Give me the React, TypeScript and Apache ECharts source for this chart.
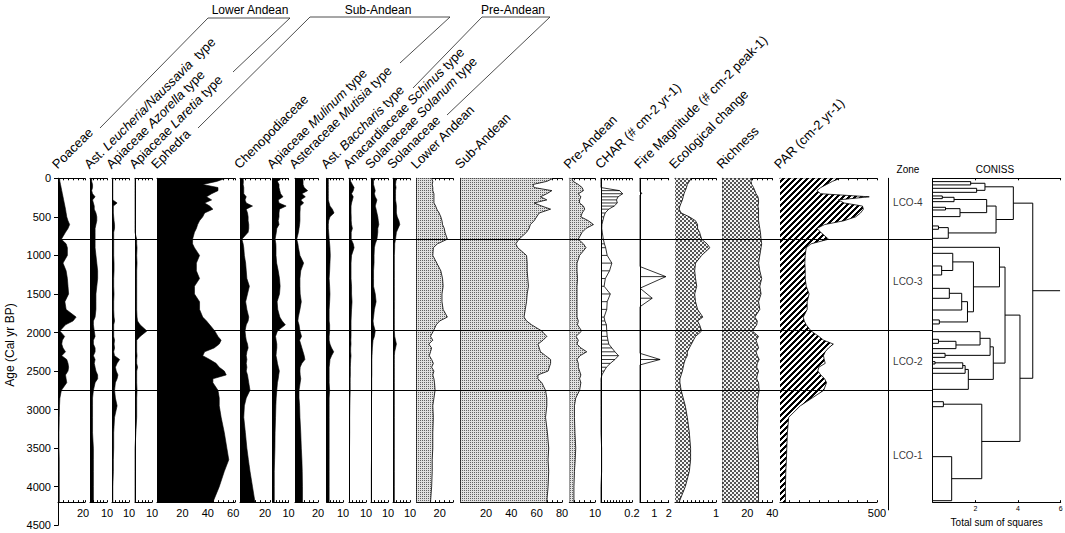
import React, { useEffect, useRef } from "react";
import * as echarts from "echarts";

// ---------------- DATA ----------------
const AGES = [0, 40, 80, 120, 160, 200, 240, 280, 320, 360,
  400, 450, 500, 550, 600, 650, 700, 790, 850, 900,
  1000, 1100, 1200, 1300, 1400, 1500, 1600, 1700, 1800,
  1850, 1900, 1980, 2050, 2100, 2150, 2200, 2250, 2300, 2350,
  2400, 2450, 2500, 2550, 2600, 2650, 2750, 2850, 2950, 3100,
  3300, 3500, 3650, 3800, 4000, 4200];

const POACEAE = [1.3, 1.5, 2, 2.5, 3, 3.5, 4, 4.5, 5, 5.5,
  6, 6.5, 7, 8, 9.3, 8, 6, 2.7, 6.5, 7.5,
  7.5, 4, 6.5, 7.5, 8, 8.5, 5.5, 6.5, 14.5,
  12, 6, 1.5, 5.3, 3.5, 3, 4, 6, 3, 7,
  8, 8.5, 8, 6, 6.5, 7, 2.7, 1.5, 1.2, 1,
  0.8, 0.8, 1, 1, 1, 1];
const AST_LEUCHERIA = [1, 1, 1.5, 1.5, 1, 1.5, 3, 1.5, 2, 2.5,
  2.5, 3.5, 4, 4, 3.5, 3, 3, 3, 3, 3,
  3.5, 4, 4.5, 4.5, 4, 3.5, 3.5, 3.5, 3,
  2, 2, 2.5, 3, 2, 2, 3, 3, 2, 3,
  2.5, 3, 3.5, 4.5, 4.5, 3, 2, 1.5, 1.5, 1.5,
  1.5, 2, 2, 2, 2, 2];
const AZORELLA = [0.5, 0.5, 0.5, 0.5, 0.5, 0.5, 0.5, 0.5, 3, 0.8,
  0.8, 0.8, 1, 1.2, 1.5, 1.5, 1, 1, 1, 1,
  1, 1.2, 1.2, 1, 1, 1.2, 1, 1, 1.2,
  1.5, 1, 1, 1, 1.5, 1.2, 1.5, 1, 1.5, 4.5,
  3, 2, 2.5, 3.5, 3, 2, 1.5, 2, 3, 1.5,
  1, 1, 0.8, 0.8, 0.5, 0.5];
const LARETIA = [0, 0, 0, 0, 0, 0, 0, 0, 0, 0,
  0, 0, 0, 0, 0, 0, 0, 1, 1, 1.2,
  1, 1.2, 1, 1, 1, 1, 1, 1, 1.2,
  1.5, 3, 7, 3, 1, 1, 1, 1, 1.2, 1,
  1, 1.5, 1, 1, 1, 1, 1.2, 1, 1, 1,
  0.5, 0, 0, 0, 0, 0];
const EPHEDRA = [54, 47, 36, 48, 48, 43, 39, 43, 37.5, 41.5,
  44, 37.5, 36, 33.5, 32, 31, 29.5, 28, 28, 29.5,
  33.5, 31, 31, 33.5, 29.5, 29.5, 33.5, 33.5, 36,
  39, 41.5, 45.5, 48, 50.5, 49, 45, 37.5, 36, 41.5,
  46.5, 49, 53, 54.5, 44, 44, 48, 49, 49, 50.5,
  53, 55, 56.5, 53, 49, 44];
const CHENOPODIACEAE = [2.5, 2.7, 2.5, 3, 3, 3, 5, 4, 5, 10,
  5, 6, 6.5, 6.5, 7, 7, 6.5, 1.5, 2.5, 3,
  3.5, 4.5, 5, 5.5, 7.5, 6, 4.5, 5.5, 7,
  6.5, 5, 4, 4.5, 5, 6, 6.5, 5.5, 5, 5.5,
  5, 5.5, 5, 6, 6.5, 7, 8, 5, 3.5, 3,
  4.3, 5.5, 6.7, 8, 10, 12];
const MULINUM = [5.5, 3, 4, 4, 4.5, 5, 6.5, 3.5, 4, 8.5,
  4.3, 4, 4, 3.5, 4, 2.6, 2.3, 1.5, 2, 2.1,
  2.1, 2.5, 3.5, 4.3, 4.7, 4.3, 2.8, 3.2, 4.5,
  6, 8, 3, 1.8, 2.2, 2.6, 2.6, 2.3, 2.1, 2.6,
  3, 3.6, 4.2, 3.8, 3.5, 3, 2.6, 2.2, 2, 1.8,
  1.5, 1.4, 1.2, 1, 1, 1];
const MUTISIA = [7, 7, 7, 8, 11, 6, 9, 5, 7.5, 4.5,
  4.5, 4.3, 4.3, 4.3, 4, 3.5, 3, 1.5, 2.5, 3,
  4.3, 7.5, 5, 4.3, 4.3, 4.5, 5.5, 4.3, 2.9,
  2.5, 3.5, 4.3, 5.7, 4, 5, 6, 7, 8, 8.6,
  6, 4.5, 4.3, 4.5, 5, 4.5, 3.5, 3.5, 4, 4.3,
  5, 5.5, 6, 6.3, 6.5, 6.5];
const BACCHARIS = [1, 1, 1, 1, 1, 1, 1, 1, 1.5, 2,
  3.5, 4.5, 2, 1.2, 1, 1, 1.2, 1.5, 1.8, 2,
  2.2, 2, 1.8, 1.5, 1.8, 2, 1.8, 1.5, 1.5,
  1.5, 1.8, 1.8, 1.5, 1.5, 2, 3, 4.3, 3, 2,
  1.8, 1.5, 1.5, 1.5, 1.5, 1.5, 1.8, 1.5, 1.5, 1.5,
  1.5, 1.5, 1.5, 1.5, 1.5, 1.5];
const SCHINUS = [0.8, 1, 2, 3, 2.5, 1.5, 2.5, 2, 1.5, 1.2,
  1.2, 1.2, 1.3, 1.3, 1.5, 2, 1.3, 1.3, 2.5, 3,
  1.5, 1.2, 1.2, 1.2, 1.5, 1.5, 1.8, 1.5, 1.3,
  1.2, 1.2, 1.2, 1.2, 1.1, 1.2, 1, 1, 1.2, 1,
  0.9, 0.8, 0.8, 0.8, 0.7, 0.7, 0.7, 0.6, 0.5, 0.4,
  0.4, 0.3, 0.3, 0.3, 0.3, 0.3];
const SOLANUM = [1.5, 1.5, 1.5, 2, 2.5, 2, 2.5, 3.5, 3, 2.5,
  3, 3.5, 4, 4.3, 4.6, 4, 4, 3.5, 2.5, 2,
  1.8, 1.8, 1.5, 1.5, 1.5, 2.5, 3, 2, 1.5,
  1.2, 1.5, 2.5, 2, 1.2, 1, 0.8, 0.7, 0.6, 0.5,
  0.5, 0.5, 0.5, 0.5, 0.4, 0.4, 0.4, 0.3, 0.3, 0.3,
  0.3, 0.3, 0.3, 0.2, 0.2, 0.2];
const SOLANACEAE = [1.7, 1.7, 1.5, 1.8, 1.5, 1.5, 1.5, 1.5, 1.8, 2,
  2, 2, 2.5, 3.5, 4, 3, 2, 1.5, 1, 1,
  0.8, 0.8, 0.8, 0.8, 0.8, 0.8, 0.8, 0.8, 0.8,
  0.8, 0.8, 0.8, 1, 1.5, 2, 1.5, 1, 0.8, 0.8,
  0.8, 0.8, 0.8, 0.8, 0.8, 0.8, 0.8, 0.8, 0.8, 0.8,
  0.8, 0.8, 0.8, 0.8, 0.8, 0.8];
const LOWER_ANDEAN = [13, 14, 13.5, 14, 14, 15, 15, 15, 15, 16.5,
  17.5, 19.5, 21, 22, 22.5, 24, 24.6, 26.7, 18, 14.5,
  14, 17.5, 21, 22.5, 23, 22, 22, 23, 26.7,
  20, 17, 14.5, 12, 14, 10.5, 13, 12, 11, 13,
  14.5, 13, 15, 14, 15, 15.5, 16, 15, 14, 14.5,
  14, 14, 13.5, 13.5, 13, 12];
const SUB_ANDEAN = [73, 68, 57, 58, 72, 68, 63, 68, 58, 64,
  71, 62, 60, 58, 55, 54, 52, 46, 43.5, 45,
  52, 52.5, 52.5, 53, 53.5, 52.5, 52, 51, 50,
  52, 56, 64, 68, 65, 61, 62, 63, 67, 71,
  71, 70, 69, 61, 61, 64, 67, 68, 68, 67,
  68.5, 69.5, 69, 69.5, 69, 68];
const PRE_ANDEAN = [1, 1.5, 3.5, 5, 5.5, 3.5, 4.5, 4, 4, 5.5,
  6, 5, 4.5, 7.4, 9.4, 6.5, 5, 3.5, 5.5, 6.5,
  4, 3, 3, 3.2, 3, 3, 3, 3, 3,
  3.5, 3.2, 4.8, 2.6, 3.5, 3, 4.5, 6.8, 4.2, 3,
  3.5, 3.5, 4, 4.5, 4, 4.5, 4, 2.5, 2, 2,
  2.2, 2.5, 2.3, 2, 1.8, 1.8];
const CHAR = [0, 0, 0, 0, 0.12, 0.14, 0.11, 0.1, 0.105, 0.085,
  0.05, 0.027, 0.018, 0.012, 0.006, 0.005, 0.008, 0.015, 0.022, 0.03,
  0.04, 0.07, 0.055, 0.028, 0.02, 0.06, 0.04, 0.037, 0.02,
  0.025, 0.035, 0.037, 0.04, 0.045, 0.05, 0.07, 0.09, 0.113, 0.09,
  0.06, 0.035, 0.02, 0.006, 0, 0, 0, 0, 0, 0,
  0, 0.004, 0.004, 0.004, 0, 0];
const ECOLOGICAL_CHANGE = [0.4, 0.35, 0.3, 0.28, 0.25, 0.22, 0.2, 0.18, 0.15, 0.12,
  0.1, 0.15, 0.35, 0.5, 0.55, 0.55, 0.6, 0.65, 0.78, 0.85,
  0.65, 0.5, 0.48, 0.5, 0.53, 0.48, 0.5, 0.55, 0.68,
  0.55, 0.6, 0.65, 0.5, 0.45, 0.4, 0.35, 0.3, 0.3, 0.25,
  0.22, 0.2, 0.18, 0.15, 0.12, 0.12, 0.15, 0.2, 0.25, 0.3,
  0.35, 0.38, 0.38, 0.35, 0.25, 0.1];
const RICHNESS = [23.5, 23, 23.5, 25, 26, 27, 28.5, 29, 29, 28.5,
  29, 29, 29, 29, 29.5, 30, 30.5, 31, 31.5, 31,
  30, 29, 30, 31.5, 30, 31, 29, 30, 26,
  28, 27.5, 24, 29, 27, 28, 29, 27, 28, 29.5,
  28, 27.5, 29, 28, 27.5, 29, 29.5, 28.5, 28, 28.5,
  28, 28.5, 29, 29, 29, 29];
const PAR = [310, 270, 240, 210, 190, 210, 460, 300, 330, 425,
  430, 415, 390, 330, 230, 190, 210, 250, 160, 135,
  130, 128, 130, 130, 135, 150, 140, 140, 120,
  125, 135, 160, 200, 225, 275, 250, 233, 224, 228,
  233, 200, 195, 210, 230, 240, 225, 165, 105, 45,
  38, 35, 33, 30, 28, 28];

const FIRE_AGES = [0, 170, 195, 220, 1145, 1275, 1425, 1555, 1665, 2270, 2350, 2420, 4200];
const FIRE_MAGNITUDE = [0, 0, 0.12, 0, 0, 1.8, 0, 0.85, 0, 0, 1.4, 0, 0];

const ZONE_BOUNDARIES = [785, 1975, 2745];
const ZONE_NAMES = ["LCO-4", "LCO-3", "LCO-2", "LCO-1"];
const ZONE_LABEL_AGES = [320, 1340, 2380, 3590];

const CONISS_LEAVES = [43, 86, 130, 182, 229, 264, 303, 376, 411, 497,
  618, 661, 778, 895, 973, 1137, 1254, 1427, 1556, 1708,
  1837, 1889, 1989, 2088, 2140, 2209, 2270, 2322, 2378, 2408,
  2464, 2529, 2737, 2897, 2962, 3610, 4181];
// [child A, child B, total sum of squares]; children >= leaves.length refer to earlier merges
const CONISS_MERGES = [
  [0, 1, 1.78], [2, 3, 2.06], [37, 38, 2.45], [4, 5, 0.45], [40, 6, 1.0],
  [7, 8, 0.6], [42, 9, 1.28], [41, 43, 2.53], [10, 11, 0.27], [45, 12, 0.73],
  [44, 46, 2.97], [39, 47, 3.78], [15, 16, 0.42], [14, 49, 0.94], [17, 18, 0.78],
  [51, 19, 1.36], [20, 21, 0.31], [52, 53, 1.63], [50, 54, 1.91], [13, 55, 3.13],
  [23, 24, 0.27], [57, 25, 1.09], [22, 58, 2.22], [26, 27, 0.58], [59, 60, 2.69],
  [28, 29, 0.11], [62, 30, 1.41], [63, 31, 1.52], [64, 32, 1.67], [61, 65, 2.84],
  [56, 66, 3.39], [33, 34, 0.5], [35, 36, 0.89], [68, 69, 2.3], [67, 70, 4.09],
  [48, 71, 4.69]];
const CONISS_ROOT_END = 5.97;

// ---------------- LAYOUT / STYLE ----------------
const FONT = '"Liberation Sans", Arial, sans-serif';
const TOP = 178.3;
const PX_PER_YR = 0.07711;
const CORE_BOTTOM = 4200;
const HEADER_FONT = 13;

type Panel = {
  name: string; data: number[]; ages?: number[]; left: number; right: number;
  max: number; interval: number; labels: number[]; fill: string; hlines?: boolean;
};

const PANELS: Panel[] = [
  { name: "Poaceae", data: POACEAE, left: 58, right: 85, max: 21.6, interval: 4, labels: [20], fill: "black" },
  { name: "Ast. {i|Leucheria/Naussavia}  type", data: AST_LEUCHERIA, left: 90, right: 107, max: 10, interval: 2, labels: [10], fill: "black" },
  { name: "Apiaceae {i|Azorella} type", data: AZORELLA, left: 112, right: 129, max: 10, interval: 2, labels: [10], fill: "black" },
  { name: "Apiaceae {i|Laretia} type", data: LARETIA, left: 135, right: 152, max: 10, interval: 2, labels: [10], fill: "black" },
  { name: "Ephedra", data: EPHEDRA, left: 157, right: 235, max: 61.4, interval: 4, labels: [20, 40, 60], fill: "black" },
  { name: "Chenopodiaceae", data: CHENOPODIACEAE, left: 240, right: 270, max: 24, interval: 4, labels: [20], fill: "black" },
  { name: "Apiaceae {i|Mulinum} type", data: MULINUM, left: 272.7, right: 288.5, max: 10, interval: 2, labels: [10], fill: "black" },
  { name: "Asteraceae {i|Mutisia} type", data: MUTISIA, left: 295, right: 318, max: 20, interval: 4, labels: [20], fill: "black" },
  { name: "Ast. {i|Baccharis} type", data: BACCHARIS, left: 326.7, right: 343, max: 10, interval: 2, labels: [10], fill: "black" },
  { name: "Anacardiaceae {i|Schinus} type", data: SCHINUS, left: 349, right: 366, max: 10, interval: 2, labels: [10], fill: "black" },
  { name: "Solanaceae {i|Solanum} type", data: SOLANUM, left: 371, right: 388, max: 10, interval: 2, labels: [10], fill: "black" },
  { name: "Solanaceae", data: SOLANACEAE, left: 393, right: 410, max: 10, interval: 2, labels: [10], fill: "black" },
  { name: "Lower Andean", data: LOWER_ANDEAN, left: 416.7, right: 453, max: 31.6, interval: 4, labels: [20], fill: "stipple" },
  { name: "Sub-Andean", data: SUB_ANDEAN, left: 460.7, right: 562, max: 80, interval: 4, labels: [20, 40, 60, 80], fill: "stipple" },
  { name: "Pre-Andean", data: PRE_ANDEAN, left: 569.3, right: 595, max: 10, interval: 2, labels: [10], fill: "stipple" },
  { name: "CHAR (# cm-2 yr-1)", data: CHAR, left: 601, right: 632, max: 0.2, interval: 0.02, labels: [0.2], fill: "none", hlines: true },
  { name: "Fire Magnitude (# cm-2 peak-1)", data: FIRE_MAGNITUDE, ages: FIRE_AGES, left: 640, right: 668.7, max: 2, interval: 0.5, labels: [1, 2], fill: "none", hlines: true },
  { name: "Ecological change", data: ECOLOGICAL_CHANGE, left: 675, right: 716, max: 1, interval: 0.1, labels: [1], fill: "checker" },
  { name: "Richness", data: RICHNESS, left: 722.3, right: 772.3, max: 40, interval: 4, labels: [20, 40], fill: "checker" },
  { name: "PAR (cm-2 yr-1)", data: PAR, left: 780, right: 877, max: 500, interval: 50, labels: [500], fill: "stripes" },
];

const GROUPS = [
  { text: "Lower Andean", x: 250, points: [[100, 128], [208, 18], [290, 18], [233, 72]] },
  { text: "Sub-Andean", x: 378, points: [[198, 128], [310, 17], [450, 17], [400, 63]] },
  { text: "Pre-Andean", x: 513, points: [[413, 88], [482, 17], [550, 17], [447, 115]] },
];

function makePattern(size: number, painter: (x: number, y: number) => number) {
  const c = document.createElement("canvas");
  c.width = size;
  c.height = size;
  const ctx = c.getContext("2d")!;
  const img = ctx.createImageData(size, size);
  for (let y = 0; y < size; y++) {
    for (let x = 0; x < size; x++) {
      const v = painter(x, y);
      const k = (y * size + x) * 4;
      img.data[k] = v; img.data[k + 1] = v; img.data[k + 2] = v; img.data[k + 3] = 255;
    }
  }
  ctx.putImageData(img, 0, 0);
  return { image: c.toDataURL(), repeat: "repeat", imageWidth: size, imageHeight: size };
}

function axisCommon(extra: any) {
  return {
    type: "value",
    axisLine: { show: true, onZero: false, lineStyle: { color: "#000", width: 1 } },
    splitLine: { show: false },
    ...extra,
  };
}

function buildOption() {
  const fills: Record<string, any> = {
    black: "#000",
    stipple: makePattern(2, (x, y) => (x === 0 && y === 0 ? 100 : 225)),
    checker: makePattern(4, (x, y) => (((x >> 1) + (y >> 1)) % 2 === 0 ? 85 : 245)),
    stripes: makePattern(6, (x, y) => ((x + y) % 6 < 3 ? 0 : 255)),
  };

  const grid: any[] = [];
  const xAxis: any[] = [];
  const yAxis: any[] = [];
  const series: any[] = [];
  const gridBase = { outerBoundsMode: "none", containLabel: false };

  // Age axis grid (also carries the zone boundary lines)
  grid.push({ ...gridBase, left: 58, width: 932 - 58, top: TOP, height: 4500 * PX_PER_YR });
  xAxis.push({ gridIndex: 0, type: "value", min: 0, max: 1, show: false });
  yAxis.push(axisCommon({
    gridIndex: 0, min: 0, max: 4500, interval: 500, inverse: true,
    axisTick: { show: true, length: 4, lineStyle: { color: "#000" } },
    axisLabel: { fontSize: 11, color: "#000", fontFamily: FONT, margin: 7, formatter: (v: number) => String(v) },
  }));
  series.push({
    type: "line", xAxisIndex: 0, yAxisIndex: 0, data: [[0, 0]], symbol: "none", showSymbol: false,
    lineStyle: { opacity: 0 }, z: 10, silent: true,
    markLine: {
      silent: true, symbol: "none", label: { show: false },
      lineStyle: { color: "#000", width: 1, type: "solid" },
      data: ZONE_BOUNDARIES.map((a) => ({ yAxis: a })),
    },
  });

  PANELS.forEach((p) => {
    const gi = grid.length;
    grid.push({ ...gridBase, left: p.left, width: p.right - p.left, top: TOP, height: CORE_BOTTOM * PX_PER_YR });
    const xb = xAxis.length;
    const fmt = (v: number) => (p.labels.some((l) => Math.abs(l - v) < 1e-6) ? String(+v.toFixed(3)) : "");
    xAxis.push(axisCommon({
      gridIndex: gi, position: "bottom", min: 0, max: p.max, interval: p.interval,
      axisTick: { show: true, inside: true, length: 2, lineStyle: { color: "#000" } },
      axisLabel: { fontSize: 11, color: "#000", fontFamily: FONT, margin: 5, formatter: fmt, hideOverlap: false },
    }));
    xAxis.push(axisCommon({
      gridIndex: gi, position: "top", min: 0, max: p.max, interval: p.interval,
      axisTick: { show: true, inside: true, length: 2, lineStyle: { color: "#000" } },
      axisLabel: { show: false },
    }));
    const yi = yAxis.length;
    yAxis.push(axisCommon({
      gridIndex: gi, type: "time", min: 0, max: CORE_BOTTOM, inverse: true,
      axisTick: { show: false }, axisLabel: { show: false },
    }));
    const ages = p.ages || AGES;
    const data = ages.map((a, k) => [p.data[k], a]);
    const s: any = {
      type: "line", xAxisIndex: xb, yAxisIndex: yi, data, symbol: "none", showSymbol: false,
      lineStyle: { color: "#000", width: p.fill === "black" ? 0.6 : 0.8 }, z: 3, silent: true,
    };
    if (p.fill !== "none") s.areaStyle = { color: fills[p.fill], opacity: 1 };
    series.push(s);
    if (p.hlines) {
      series.push({
        type: "custom", xAxisIndex: xb, yAxisIndex: yi, silent: true, z: 3,
        data: data.filter((d) => d[0] > 0),
        renderItem: (_params: any, api: any) => {
          const a = api.coord([0, api.value(1)]);
          const b = api.coord([api.value(0), api.value(1)]);
          return {
            type: "line",
            shape: { x1: a[0], y1: a[1], x2: b[0], y2: b[1] },
            style: { stroke: "#000", lineWidth: 0.8 },
          };
        },
      });
    }
  });

  // Zone column
  const zg = grid.length;
  grid.push({ ...gridBase, left: 888, width: 44, top: TOP, height: 4300 * PX_PER_YR });
  const zx = xAxis.length;
  xAxis.push({ gridIndex: zg, type: "value", min: 0, max: 1, show: false });
  const zy = yAxis.length;
  yAxis.push(axisCommon({
    gridIndex: zg, min: 0, max: 4300, inverse: true, axisTick: { show: false }, axisLabel: { show: false },
  }));
  series.push({
    type: "scatter", xAxisIndex: zx, yAxisIndex: zy, symbolSize: 1, silent: true,
    itemStyle: { color: "transparent" },
    data: ZONE_NAMES.map((n, i) => ({ name: n, value: [0.45, ZONE_LABEL_AGES[i]] })),
    label: { show: true, position: "inside", formatter: "{b}", fontSize: 10, color: "#000", fontFamily: FONT },
  });

  // CONISS
  const cg = grid.length;
  grid.push({ ...gridBase, left: 932.7, width: 128, top: TOP, height: CORE_BOTTOM * PX_PER_YR });
  const cx = xAxis.length;
  const cfmt = (v: number) => ([2, 4, 6].includes(Math.round(v)) && Math.abs(v - Math.round(v)) < 1e-6 && v > 0 ? String(v) : "");
  xAxis.push(axisCommon({
    gridIndex: cg, position: "bottom", min: 0, max: 6, interval: 2,
    axisTick: { show: true, inside: true, length: 2, lineStyle: { color: "#000" } },
    axisLabel: { fontSize: 7, color: "#000", fontFamily: FONT, margin: 3, formatter: cfmt },
    name: "Total sum of squares", nameLocation: "middle", nameGap: 15,
    nameTextStyle: { fontSize: 10, color: "#000", fontFamily: FONT },
  }));
  xAxis.push(axisCommon({
    gridIndex: cg, position: "top", min: 0, max: 6, interval: 2,
    axisTick: { show: true, inside: true, length: 2, lineStyle: { color: "#000" } },
    axisLabel: { show: false },
  }));
  const cy = yAxis.length;
  yAxis.push(axisCommon({
    gridIndex: cg, min: 0, max: CORE_BOTTOM, inverse: true, axisTick: { show: false }, axisLabel: { show: false },
  }));
  const nodes: { h: number; y: number }[] = CONISS_LEAVES.map((a) => ({ h: 0, y: a }));
  const segs: number[][] = [];
  CONISS_MERGES.forEach(([a, b, h]) => {
    const A = nodes[a];
    const B = nodes[b];
    segs.push([A.h, A.y, h, B.y, B.h]);
    nodes.push({ h, y: (A.y + B.y) / 2 });
  });
  const root = nodes[nodes.length - 1];
  segs.push([root.h, root.y, CONISS_ROOT_END, root.y, CONISS_ROOT_END]);
  series.push({
    type: "custom", xAxisIndex: cx, yAxisIndex: cy, silent: true,
    data: segs, encode: { x: [0, 2, 4], y: [1, 3] },
    renderItem: (_params: any, api: any) => {
      const pts = [
        api.coord([api.value(0), api.value(1)]),
        api.coord([api.value(2), api.value(1)]),
        api.coord([api.value(2), api.value(3)]),
        api.coord([api.value(4), api.value(3)]),
      ];
      return { type: "polyline", shape: { points: pts }, style: { stroke: "#000", fill: null, lineWidth: 1 } };
    },
  });

  // Graphic annotations
  const elements: any[] = [];
  PANELS.forEach((p) => {
    elements.push({
      type: "text", x: p.left + 1, y: 171, rotation: Math.PI / 4, silent: true,
      style: {
        text: p.name, fontSize: HEADER_FONT, fontFamily: FONT, fill: "#000",
        align: "left", verticalAlign: "bottom", textAlign: "left", textVerticalAlign: "bottom",
        rich: { i: { fontStyle: "italic", fontSize: HEADER_FONT, fontFamily: FONT, fill: "#000" } },
      },
    });
  });
  GROUPS.forEach((g) => {
    elements.push({
      type: "text", x: g.x, y: 10, silent: true,
      style: { text: g.text, fontSize: 12, fontFamily: FONT, fill: "#000", align: "center", verticalAlign: "middle", textAlign: "center", textVerticalAlign: "middle" },
    });
    elements.push({
      type: "polyline", silent: true, shape: { points: g.points },
      style: { stroke: "#222", lineWidth: 0.8, fill: null },
    });
  });
  elements.push({
    type: "text", x: 10, y: 345, rotation: Math.PI / 2, silent: true,
    style: { text: "Age (Cal yr BP)", fontSize: 12, fontFamily: FONT, fill: "#000", align: "center", verticalAlign: "middle", textAlign: "center", textVerticalAlign: "middle" },
  });
  elements.push({
    type: "text", x: 908, y: 169, silent: true,
    style: { text: "Zone", fontSize: 10, fontFamily: FONT, fill: "#000", align: "center", verticalAlign: "middle", textAlign: "center", textVerticalAlign: "middle" },
  });
  elements.push({
    type: "text", x: 995, y: 169, silent: true,
    style: { text: "CONISS", fontSize: 10, fontFamily: FONT, fill: "#000", align: "center", verticalAlign: "middle", textAlign: "center", textVerticalAlign: "middle" },
  });

  return {
    animation: false,
    backgroundColor: "#fff",
    textStyle: { fontFamily: FONT },
    grid, xAxis, yAxis, series,
    graphic: { elements },
  };
}

export default function App() {
  const ref = useRef<HTMLDivElement>(null);
  useEffect(() => {
    if (!ref.current) return;
    const chart = echarts.init(ref.current, null, { renderer: "svg" });
    chart.setOption(buildOption() as any);
    return () => chart.dispose();
  }, []);
  return (
    <div
      ref={ref}
      style={{ position: "fixed", left: 0, top: 0, width: 1065, height: 533, background: "#fff" }}
    />
  );
}
